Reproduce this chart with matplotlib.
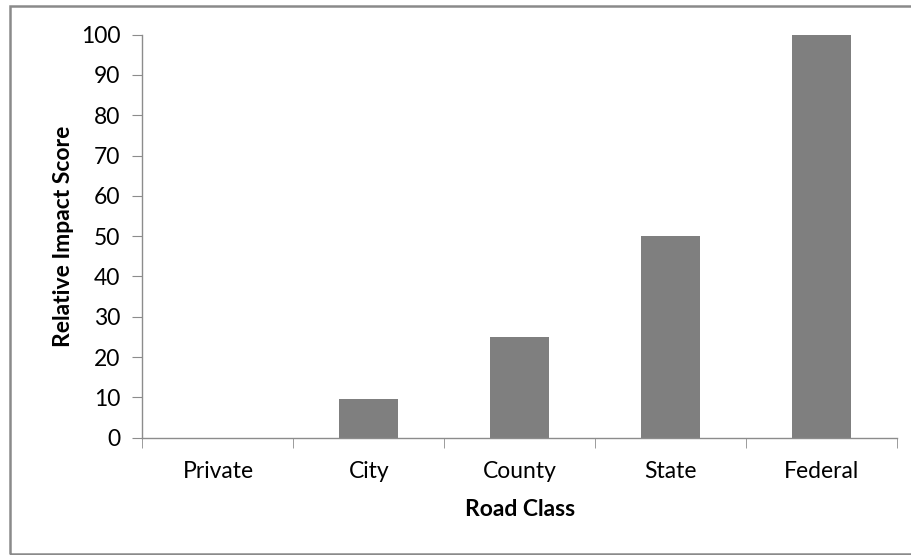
import matplotlib
matplotlib.use("Agg")
import matplotlib.pyplot as plt
from matplotlib.patches import Rectangle
import numpy as np

categories = ["Private", "City", "County", "State", "Federal"]
scores = [0, 9.7, 25, 50, 100]
y_ticks = list(range(0, 101, 10))

plt.rcParams['font.family'] = ['Lato', 'DejaVu Sans']

fig = plt.figure(figsize=(9.12, 5.55), dpi=100)
ax = fig.add_axes([0.1562, 0.2114, 0.8277, 0.7261])

x = np.arange(len(categories))
ax.bar(x, scores, width=0.39, color="#7f7f7f")

ax.set_xlim(-0.5, len(categories) - 0.5)
ax.set_ylim(0, 100)
ax.set_yticks(y_ticks)
ax.set_xticks(x)
ax.set_xticklabels(categories)
ax.set_xticks(np.arange(len(categories) + 1) - 0.5, minor=True)

for side in ["top", "right"]:
    ax.spines[side].set_visible(False)
for side in ["left", "bottom"]:
    ax.spines[side].set_color("#8c8c8c")
    ax.spines[side].set_linewidth(1.0)

fs = 16.5
ax.tick_params(axis="y", length=7, color="#8c8c8c", labelsize=fs, pad=9,
               labelcolor="#000000")
ax.tick_params(axis="x", which="major", length=0, labelsize=fs, pad=17)
ax.tick_params(axis="x", which="minor", length=7, color="#8c8c8c")

ax.set_xlabel("Road Class", fontsize=fs, fontweight="bold", labelpad=12)
ax.set_ylabel("Relative Impact Score", fontsize=fs, fontweight="bold", labelpad=5)

# outer chart border (cropped on the right like the reference)
fig.patches.append(Rectangle((10 / 912, 1.5 / 555), 1.2, 548 / 555,
                             transform=fig.transFigure, fill=False,
                             edgecolor="#8a8a8a", linewidth=1.8))

fig.savefig("out.png", dpi=100)
